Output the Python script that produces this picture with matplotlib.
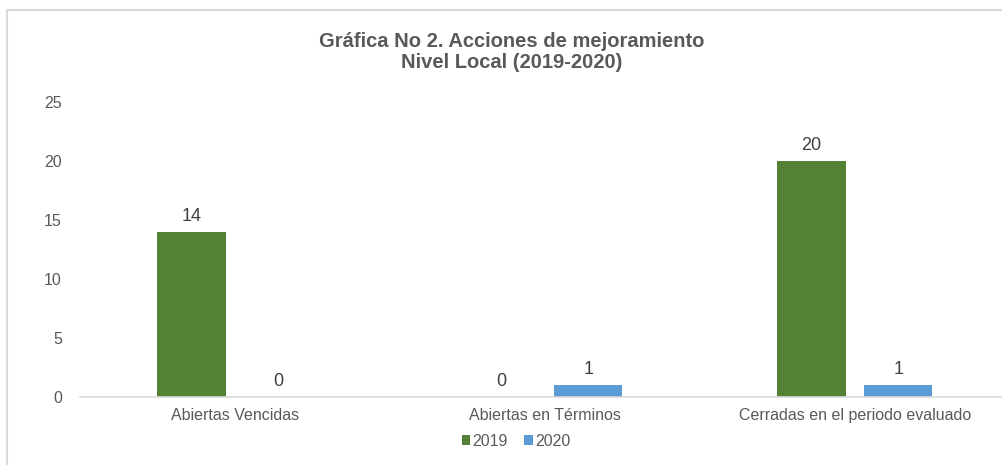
import numpy as np
import matplotlib.pyplot as plt
from matplotlib.lines import Line2D

categorias = ['Abiertas Vencidas', 'Abiertas en Términos', 'Cerradas en el periodo evaluado']
valores_2019 = [14, 0, 20]
valores_2020 = [0, 1, 1]
series = ['2019', '2020']

plt.rcParams['font.family'] = ['Liberation Sans', 'DejaVu Sans']

verde = '#548235'
azul = '#5b9bd5'
gris = '#595959'

fig = plt.figure(figsize=(10.03, 4.65), dpi=100)
ax = fig.add_axes([80/1003, 68/465, 930/1003, 295/465])

x = np.arange(len(categorias))
w = 0.22
b1 = ax.bar(x - 0.14, valores_2019, w, color=verde, label=series[0])
b2 = ax.bar(x + 0.14, valores_2020, w, color=azul, label=series[1])

for bars in (b1, b2):
    for r in bars:
        ax.annotate(str(int(r.get_height())), (r.get_x() + r.get_width()/2, r.get_height()),
                    xytext=(0, 5), textcoords='offset points', ha='center', va='bottom',
                    fontsize=13, color='#404040')

ax.set_xlim(-0.5, 2.5)
ax.set_ylim(0, 25)
ax.set_yticks(range(0, 26, 5))
ax.set_xticks(x)
ax.set_xticklabels(categorias)
ax.tick_params(length=0, labelsize=11.5, colors=gris)
ax.tick_params(axis='y', pad=13)
ax.tick_params(axis='x', pad=8)
for s in ['top', 'right', 'left']:
    ax.spines[s].set_visible(False)
ax.spines['bottom'].set_color('#d9d9d9')
ax.spines['bottom'].set_linewidth(1.2)

fig.text(512/1003, 1 - 52/465, 'Gráfica No 2. Acciones de mejoramiento\nNivel Local (2019-2020)',
         ha='center', va='center', fontsize=14.5, fontweight='bold', color=gris, linespacing=1.15)

fig.legend(loc='center', bbox_to_anchor=(516/1003, 1 - 441/465), ncol=2, frameon=False,
           fontsize=11.5, labelcolor=gris, handlelength=0.55, handleheight=0.55,
           handletextpad=0.15, columnspacing=1.0)

# borde exterior del gráfico
fig.add_artist(Line2D([7/1003, 7/1003], [0, 1 - 10/465], color='#d9d9d9', lw=1.5))
fig.add_artist(Line2D([7/1003, 1], [1 - 10/465, 1 - 10/465], color='#d9d9d9', lw=1.5))

fig.savefig('out.png', dpi=100, facecolor='white')
